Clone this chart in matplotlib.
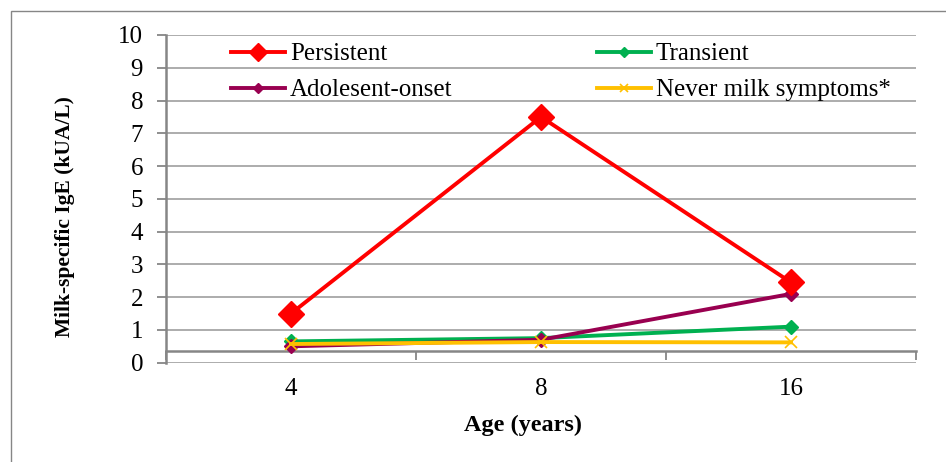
import matplotlib
matplotlib.use("Agg")
import matplotlib.pyplot as plt
from matplotlib.patches import Rectangle

ages = ["4", "8", "16"]
persistent = [1.5, 7.5, 2.45]
transient = [0.65, 0.75, 1.1]
adolescent = [0.5, 0.7, 2.1]
never = [0.57, 0.63, 0.62]

plt.rcParams["font.family"] = ["Liberation Serif", "DejaVu Serif"]

fig = plt.figure(figsize=(9.46, 4.62), dpi=100)
ax = fig.add_axes([166/946, 1-362.7/462, 750/946, 327.7/462])

x = range(len(ages))
l_per, = ax.plot(x, persistent, color="#FF0000", lw=2.8, marker="D", ms=13, label="Persistent", zorder=5)
l_tra, = ax.plot(x, transient, color="#00B050", lw=2.8, marker="D", ms=7.5, label="Transient", zorder=3)
l_ado, = ax.plot(x, adolescent, color="#990050", lw=2.8, marker="D", ms=7.5, label="Adolesent-onset", zorder=4)
l_nev, = ax.plot(x, never, color="#FFC000", lw=2.8, marker="x", ms=9, mew=1.2, label="Never milk symptoms*", zorder=4)

ax.set_xlim(-0.5, 2.5)
ax.set_ylim(0, 10)
ax.set_yticks(range(0, 11))
ax.yaxis.grid(True, color="#A6A6A6", lw=1.3)
ax.set_axisbelow(True)

for s in ["top", "right"]:
    ax.spines[s].set_visible(False)
ax.spines["left"].set_color("#868686")
ax.spines["left"].set_linewidth(1.8)
ax.spines["bottom"].set_color("#868686")
ax.spines["bottom"].set_linewidth(1.8)
ax.spines["bottom"].set_position(("data", 0.37))

ax.set_xticks(list(x))
ax.set_xticklabels(ages)
ax.set_xticks([-0.5, 0.5, 1.5, 2.5], minor=True)
ax.tick_params(axis="x", which="major", length=0, pad=20, labelsize=18)
ax.tick_params(axis="x", which="minor", length=6.5, width=1.3, color="#868686", direction="out")
ax.tick_params(axis="y", length=6.5, width=1.3, color="#868686", pad=10, labelsize=18)

fig.text(65/946, 1-217/462, "Milk-specific IgE (kUA/L)", rotation=90, ha="center", va="center",
         fontsize=15.5, fontweight="bold")
fig.text(523/946, 1-425/462, "Age (years)", ha="center", va="center", fontsize=17.5, fontweight="bold")

ax.legend([l_per, l_ado, l_tra, l_nev],
          ["Persistent", "Adolesent-onset", "Transient", "Never milk symptoms*"],
          ncol=2, frameon=False, loc="upper left", bbox_to_anchor=(231/946, 1-43/462),
          bbox_transform=fig.transFigure, borderpad=0, borderaxespad=0, fontsize=18,
          handlelength=2.15, handletextpad=0.2, columnspacing=5.8, labelspacing=0.53,
          markerscale=0.7)

fig.add_artist(Rectangle((11/946, -0.1), 1.0, 1-11/462+0.1, transform=fig.transFigure,
                         fill=False, edgecolor="#868686", lw=1))

fig.savefig("out.png", dpi=100)
